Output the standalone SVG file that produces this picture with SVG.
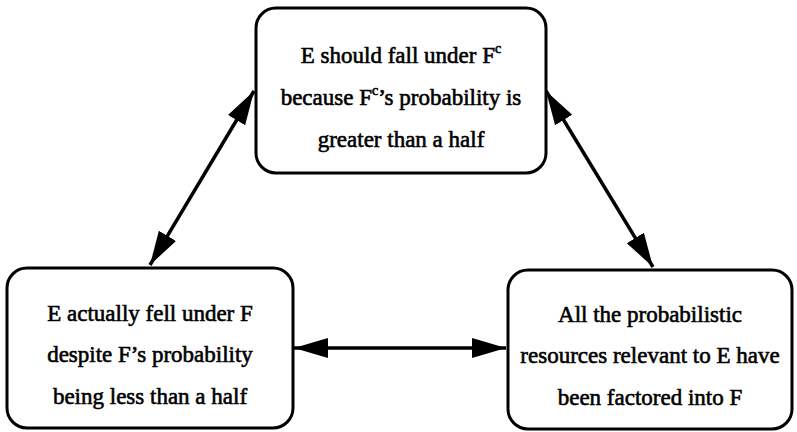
<svg xmlns="http://www.w3.org/2000/svg" width="797" height="432" viewBox="0 0 797 432">
<style>
.box{fill:#fff;stroke:#000;stroke-width:3}
.t{font-family:'Liberation Serif','DejaVu Serif','Times New Roman',serif;font-size:23px;fill:#000;stroke:#000;stroke-width:0.6;text-anchor:middle}
.sup{font-size:14px}
.c{stroke:#000;stroke-width:3.5;fill:none;marker-start:url(#ah);marker-end:url(#ah)}
</style>
<defs>
<marker id="ah" markerUnits="userSpaceOnUse" markerWidth="36" markerHeight="22" refX="34" refY="11" orient="auto-start-reverse" viewBox="0 0 36 22">
<path d="M0,1 L34,11 L0,21 Z" fill="#000"/>
</marker>
</defs>
<g id="connectors">
<line class="c" x1="150" y1="265" x2="254" y2="91"/>
<line class="c" x1="546" y1="91" x2="653" y2="267"/>
<line class="c" x1="294" y1="348" x2="506" y2="348"/>
</g>
<g id="node-top">
<rect class="box" x="256" y="8" width="290" height="165" rx="20"/>
<text class="t" x="401" y="63">E should fall under F<tspan class="sup" dy="-10">c</tspan></text>
<text class="t" x="401" y="105">because F<tspan class="sup" dy="-10">c</tspan><tspan dy="10">’s probability is</tspan></text>
<text class="t" x="401" y="147">greater than a half</text>
</g>
<g id="node-left">
<rect class="box" x="7" y="268" width="286" height="160" rx="20"/>
<text class="t" x="150" y="321">E actually fell under F</text>
<text class="t" x="150" y="362">despite F’s probability</text>
<text class="t" x="150" y="404">being less than a half</text>
</g>
<g id="node-right">
<rect class="box" x="508" y="270" width="284" height="159" rx="20"/>
<text class="t" x="650" y="322">All the probabilistic</text>
<text class="t" x="650" y="363">resources relevant to E have</text>
<text class="t" x="650" y="405">been factored into F</text>
</g>
</svg>
